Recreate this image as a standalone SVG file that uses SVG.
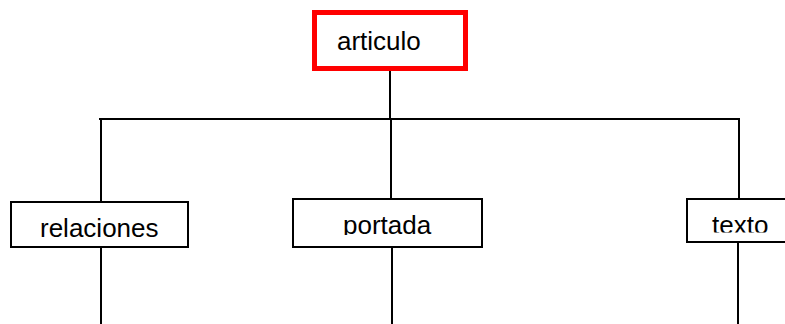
<svg xmlns="http://www.w3.org/2000/svg" width="785" height="324" viewBox="0 0 785 324">
<style>
.box{fill:#fff;stroke:#000;stroke-width:2}
.root{fill:#fff;stroke:#ff0000;stroke-width:5}
.lbl{font-family:"Liberation Sans",Arial,sans-serif;font-size:26px;fill:#000}
.ln{stroke:#000;stroke-width:2;fill:none}
</style>
<defs>
<clipPath id="cpPortada"><rect x="292" y="199" width="192" height="36"/></clipPath>
<clipPath id="cpTexto"><rect x="686" y="199" width="100" height="33.5"/></clipPath>
</defs>
<rect width="785" height="324" fill="#fff"/>
<g id="connectors">
<line class="ln" x1="390" y1="70" x2="390" y2="120"/>
<line class="ln" x1="99" y1="119" x2="740" y2="119"/>
<line class="ln" x1="101" y1="118" x2="101" y2="202"/>
<line class="ln" x1="391" y1="118" x2="391" y2="199"/>
<line class="ln" x1="739" y1="118" x2="739" y2="199"/>
<line class="ln" x1="101" y1="247" x2="101" y2="324"/>
<line class="ln" x1="392" y1="247" x2="392" y2="324"/>
<line class="ln" x1="738" y1="242" x2="738" y2="324"/>
</g>
<g id="articulo">
<rect class="root" x="314.5" y="12.5" width="151" height="56"/>
<text class="lbl" x="337" y="50">articulo</text>
</g>
<g id="relaciones">
<rect class="box" x="11" y="202" width="177" height="45"/>
<text class="lbl" x="40" y="237">relaciones</text>
</g>
<g id="portada">
<rect class="box" x="293" y="199" width="189" height="48"/>
<text class="lbl" x="343" y="234" clip-path="url(#cpPortada)">portada</text>
</g>
<g id="texto">
<rect class="box" x="687" y="199" width="110" height="43"/>
<text class="lbl" x="712" y="234" clip-path="url(#cpTexto)">texto</text>
</g>
</svg>
